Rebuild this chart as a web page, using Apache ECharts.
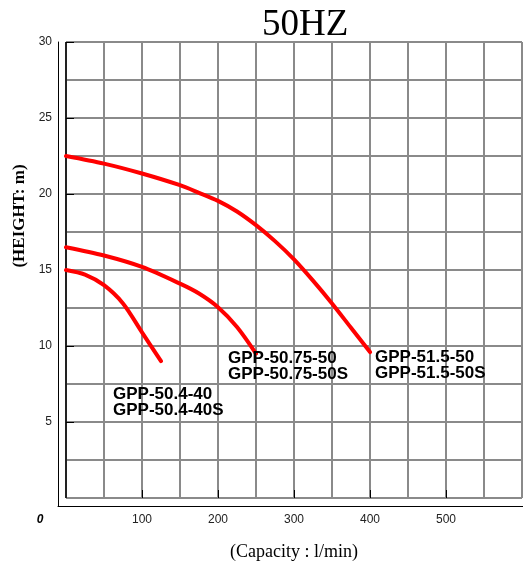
<!DOCTYPE html>
<html>
<head>
<meta charset="utf-8">
<script src="https://cdn.jsdelivr.net/npm/echarts@6/dist/echarts.min.js"></script>
<style>html,body{margin:0;padding:0;background:#fff}#c{width:523px;height:566px}</style>
</head>
<body>
<div id="c"></div>
<script>
// ---- data ----
var xLabelValues = [0, 100, 200, 300, 400, 500];
var xTickValues = [100, 200, 300, 400, 500];
var yLabelValues = [5, 10, 15, 20, 25, 30];

var name515 = 'GPP-51.5-50\nGPP-51.5-50S';
var flow515 = [0, 50, 100, 150, 175, 200, 225, 250, 275, 300, 325, 350, 375, 400];
var head515 = [22.5, 22.0, 21.35, 20.58, 20.08, 19.55, 18.85, 17.95, 16.9, 15.7, 14.3, 12.8, 11.2, 9.6];

var name5075 = 'GPP-50.75-50\nGPP-50.75-50S';
var flow5075 = [0, 50, 100, 150, 175, 200, 225, 250];
var head5075 = [16.5, 15.95, 15.2, 14.1, 13.45, 12.55, 11.25, 9.5];

var name504 = 'GPP-50.4-40\nGPP-50.4-40S';
var flow504 = [0, 25, 50, 75, 100, 125];
var head504 = [15.0, 14.7, 14.0, 12.8, 10.9, 9.0];

function zip(a, b) { return a.map(function (v, i) { return [v, b[i]]; }); }

var chart = echarts.init(document.getElementById('c'), null, {renderer: 'canvas'});

var vColors = [];
for (var i = 0; i <= 12; i++) vColors.push(i === 0 ? '#222' : '#8a8a8a');

function curve(name, flows, heads, off) {
  return {
    type: 'line', name: name, xAxisIndex: 0, yAxisIndex: 0,
    data: zip(flows, heads), smooth: 0.3, showSymbol: false, symbol: 'none',
    lineStyle: {color: '#ff0000', width: 4, cap: 'round', join: 'round'}, z: 5,
    endLabel: {
      show: true, formatter: name, distance: 0, offset: off,
      align: 'left', verticalAlign: 'middle',
      fontFamily: 'Liberation Sans', fontSize: 17, fontWeight: 'bold', lineHeight: 16,
      color: '#000'
    }
  };
}

var hidden = {axisLine: {show: false}, axisTick: {show: false}, axisLabel: {show: false}};

chart.setOption({
  animation: false,
  backgroundColor: '#fff',
  title: {
    text: '50HZ', left: 257, top: 2,
    textStyle: {fontFamily: 'Liberation Serif', fontSize: 37, fontWeight: 'normal', color: '#000'}
  },
  grid: [
    {left: 66, right: 1, top: 42, bottom: 68},
    {left: 58, right: 0, top: 42, bottom: 60}
  ],
  xAxis: [
    {
      type: 'value', gridIndex: 0, min: 0, max: 600, interval: 50, offset: 8,
      axisLine: {show: false},
      axisTick: {show: true, inside: true, length: 8, customValues: xTickValues, lineStyle: {color: '#000', width: 1}},
      axisLabel: {
        customValues: xLabelValues, margin: 8, color: '#222',
        fontFamily: 'Liberation Sans', fontSize: 12,
        formatter: function (v) { return v === 0 ? '{z|0}' : String(v); },
        rich: {z: {fontStyle: 'italic', fontWeight: 'bold', fontFamily: 'Liberation Sans', fontSize: 12, color: '#000', padding: [0, 52, 0, 0]}}
      },
      splitLine: {show: false},
      name: '(Capacity : l/min)', nameLocation: 'middle', nameGap: 37,
      nameTextStyle: {fontFamily: 'Liberation Serif', fontSize: 18, color: '#000'}
    },
    {
      type: 'value', gridIndex: 1, min: 0, max: 1,
      axisLine: {show: true, onZero: false, lineStyle: {color: '#000', width: 1}},
      axisTick: {show: false}, axisLabel: {show: false}, splitLine: {show: false}
    },
    Object.assign({
      type: 'value', gridIndex: 0, min: 0, max: 600, interval: 50,
      splitLine: {show: true, lineStyle: {color: vColors, width: 2}}
    }, hidden)
  ],
  yAxis: [
    {
      type: 'value', gridIndex: 0, min: 0, max: 30, interval: 2.5, offset: 8,
      axisLine: {show: false},
      axisTick: {show: true, inside: true, length: 8, customValues: yLabelValues, lineStyle: {color: '#000', width: 1}},
      axisLabel: {customValues: yLabelValues, margin: 6, color: '#222', fontFamily: 'Liberation Sans', fontSize: 12},
      splitLine: {show: false},
      name: '(HEIGHT: m)', nameLocation: 'middle', nameGap: 24, nameRotate: 90,
      nameTextStyle: {fontFamily: 'Liberation Serif', fontSize: 17, fontWeight: 'bold', color: '#000', padding: [0, 0, 0, 108]}
    },
    {
      type: 'value', gridIndex: 1, min: 0, max: 1,
      axisLine: {show: true, onZero: false, lineStyle: {color: '#000', width: 1}},
      axisTick: {show: false}, axisLabel: {show: false}, splitLine: {show: false}
    },
    Object.assign({
      type: 'value', gridIndex: 0, min: 0, max: 30, interval: 2.5,
      splitLine: {show: true, lineStyle: {color: '#8a8a8a', width: 2}}
    }, hidden)
  ],
  series: [
    curve(name515, flow515, head515, [5, 13]),
    curve(name5075, flow5075, head5075, [-28, 13]),
    curve(name504, flow504, head504, [-48, 41])
  ]
});
</script>
</body>
</html>
